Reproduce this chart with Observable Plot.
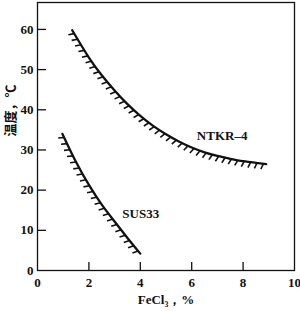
<!DOCTYPE html>
<html><head><meta charset="utf-8">
<script src="https://cdn.jsdelivr.net/npm/d3@7"></script>
<script src="https://cdn.jsdelivr.net/npm/@observablehq/plot@0.6"></script>
<style>body{margin:0;background:#fff} svg{display:block}</style>
</head><body><div id="chart"></div>
<script>
// Data
const ntkrX = [1.35, 2.0, 2.5, 3.0, 3.5, 4.0, 4.5, 5.0, 5.5, 6.0, 6.5, 7.0, 7.5, 8.0, 8.5, 8.9];
const ntkrY = [59.8, 53.0, 48.6, 44.8, 41.4, 38.5, 36.0, 33.9, 32.1, 30.6, 29.4, 28.5, 27.8, 27.2, 26.8, 26.5];
const susX = [0.97, 1.5, 2.0, 2.5, 3.0, 3.5, 4.0];
const susY = [34.0, 27.0, 21.3, 16.4, 12.2, 8.1, 4.2];
const seriesNames = ["NTKR–4", "SUS33"];
const labelX = [6.2, 3.3];
const labelY = [33.4, 14.2];
const xTicks = [0, 2, 4, 6, 8, 10];
const yTicks = [0, 10, 20, 30, 40, 50, 60];
const xInnerTicks = [2, 4, 6, 8];
const yInnerTicks = [10, 20, 30, 40, 50, 60];
const xTitle = "FeCl₃，%";
const yTitle = "温度，℃";

const ntkr = ntkrX.map((x, i) => ({x, y: ntkrY[i]}));
const sus = susX.map((x, i) => ({x, y: susY[i]}));
const labels = seriesNames.map((name, i) => ({name, x: labelX[i], y: labelY[i]}));

const W = 300, H = 311, mL = 37, mR = 6, mT = 2, mB = 41;
const ink = "#111";

function makePlot(hatches) {
  return Plot.plot({
    width: W, height: H,
    marginLeft: mL, marginRight: mR, marginTop: mT, marginBottom: mB,
    x: {domain: [0, 10]},
    y: {domain: [0, 66.7]},
    style: {fontFamily: "'Liberation Serif', 'Times New Roman', serif", fontSize: "13px", fontWeight: "bold", color: ink, background: "#fff", overflow: "visible"},
    marks: [
      Plot.frame({stroke: ink, strokeWidth: 1.3}),
      Plot.tickX(xInnerTicks, {x: d => d, insetTop: (H - mT - mB) - 8, stroke: ink, strokeWidth: 1.3}),
      Plot.tickY(yInnerTicks, {y: d => d, insetRight: (W - mL - mR) - 9, stroke: ink, strokeWidth: 1.3}),
      Plot.axisX(xTicks, {tickSize: 0, tickPadding: 7, label: null, fill: ink}),
      Plot.axisY(yTicks, {tickSize: 0, tickPadding: 4, label: null, fill: ink}),
      Plot.line(ntkr, {x: "x", y: "y", curve: "natural", stroke: ink, strokeWidth: 2.3}),
      Plot.line(sus, {x: "x", y: "y", curve: "natural", stroke: ink, strokeWidth: 2.3}),
      Plot.link(hatches, {x1: "x1", y1: "y1", x2: "x2", y2: "y2", stroke: ink, strokeWidth: 1.6}),
      Plot.text(labels, {x: "x", y: "y", text: "name", textAnchor: "start", fill: ink, fontSize: 13}),
      Plot.text([xTitle], {frameAnchor: "bottom", dy: 33, fill: ink, fontSize: 13}),
      Plot.text([yTitle], {frameAnchor: "left", dx: -27, rotate: -90, fill: ink, fontSize: 13, fontFamily: "'Noto Sans CJK SC', sans-serif"})
    ]
  });
}

// First pass: obtain scales
const first = makePlot([]);
const sx = first.scale("x"), sy = first.scale("y");

function hatchFor(data, spacing, offset, len, tiltDeg) {
  const pts = data.map(d => [sx.apply(d.x), sy.apply(d.y)]);
  const dStr = d3.line().curve(d3.curveNatural)(pts);
  const svg = d3.select("body").append("svg").attr("width", W).attr("height", H).style("position", "absolute").style("visibility", "hidden");
  const path = svg.append("path").attr("d", dStr).node();
  const L = path.getTotalLength();
  const out = [];
  const a = tiltDeg * Math.PI / 180;
  for (let s = offset; s <= L - 1; s += spacing) {
    const p = path.getPointAtLength(s);
    const p0 = path.getPointAtLength(Math.max(0, s - 0.8));
    const p1 = path.getPointAtLength(Math.min(L, s + 0.8));
    let tx = p1.x - p0.x, ty = p1.y - p0.y;
    const n = Math.hypot(tx, ty); tx /= n; ty /= n;
    const nx = -ty, ny = tx; // right-hand normal (below / left)
    const hx = Math.cos(a) * nx - Math.sin(a) * tx;
    const hy = Math.cos(a) * ny - Math.sin(a) * ty;
    out.push({x1: sx.invert(p.x), y1: sy.invert(p.y), x2: sx.invert(p.x + hx * len), y2: sy.invert(p.y + hy * len)});
  }
  svg.remove();
  return out;
}

const hatches = [...hatchFor(ntkr, 6.5, 4, 6, 20), ...hatchFor(sus, 6.8, 4, 6, 20)];
document.getElementById("chart").append(makePlot(hatches));
</script>
</body></html>
